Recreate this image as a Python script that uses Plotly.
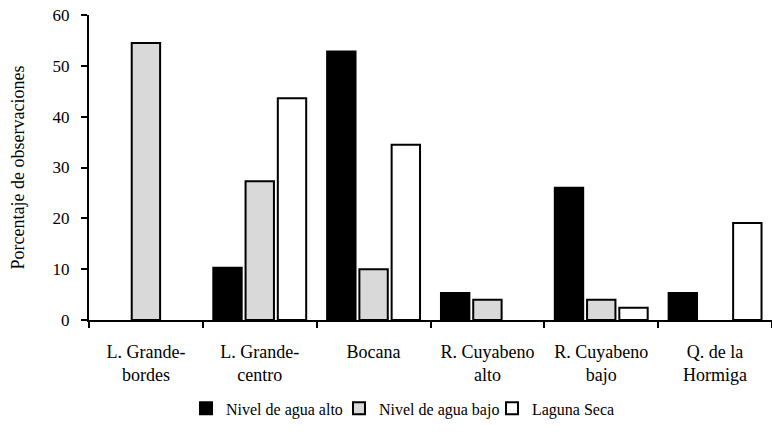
import plotly.graph_objects as go

# Datos
sitios = ["L. Grande-<br>bordes", "L. Grande-<br>centro", "Bocana",
          "R. Cuyabeno<br>alto", "R. Cuyabeno<br>bajo", "Q. de la<br>Hormiga"]
nivel_alto = [0, 10.3, 52.8, 5.3, 26.0, 5.3]
nivel_bajo = [54.5, 27.3, 10.0, 4.0, 4.0, 0]
laguna_seca = [0, 43.6, 34.5, 0, 2.4, 19.1]

series = [
    ("Nivel de agua alto", nivel_alto, "black"),
    ("Nivel de agua bajo", nivel_bajo, "#d9d9d9"),
    ("Laguna Seca", laguna_seca, "white"),
]

fuente = "Times New Roman, Liberation Serif, serif"

fig = go.Figure()
for nombre, valores, color in series:
    # los ceros no se dibujan como barra
    fig.add_trace(go.Bar(
        name=nombre, x=sitios, y=[v if v else None for v in valores],
        marker=dict(color=color, line=dict(color="black", width=2)),
    ))

fig.update_layout(
    width=772, height=432,
    margin=dict(l=89, r=0, t=15, b=112),
    plot_bgcolor="white", paper_bgcolor="white",
    font=dict(family=fuente, size=17, color="black"),
    barmode="group", bargap=0.15, bargroupgap=0.12,
    showlegend=True,
    legend=dict(orientation="h", x=0.142, xanchor="left", y=-0.29, yanchor="middle",
                font=dict(family=fuente, size=16), itemwidth=30, traceorder="normal",
                entrywidth=108, entrywidthmode="pixels"),
)
fig.update_xaxes(
    showline=True, linecolor="black", linewidth=2,
    ticks="outside", tickson="boundaries", ticklen=6, tickwidth=2, tickcolor="black",
    ticklabelstandoff=14, showgrid=False,
    tickfont=dict(family=fuente, size=18),
)
fig.update_yaxes(
    range=[0, 60], dtick=10, showline=True, linecolor="black", linewidth=2,
    ticks="outside", ticklen=6, tickwidth=2, tickcolor="black",
    ticklabelstandoff=8, ticklabeloverflow="allow", automargin=False,
    showgrid=False, zeroline=False,
    tickfont=dict(family=fuente, size=17),
    title=dict(text="Porcentaje de observaciones", font=dict(family=fuente, size=18), standoff=23),
)

# quitar el margen por defecto del body para que el grafico empiece en (0, 0)
fig.write_html("out.html", config={"displayModeBar": False},
               post_script="document.body.style.margin = '0';")
